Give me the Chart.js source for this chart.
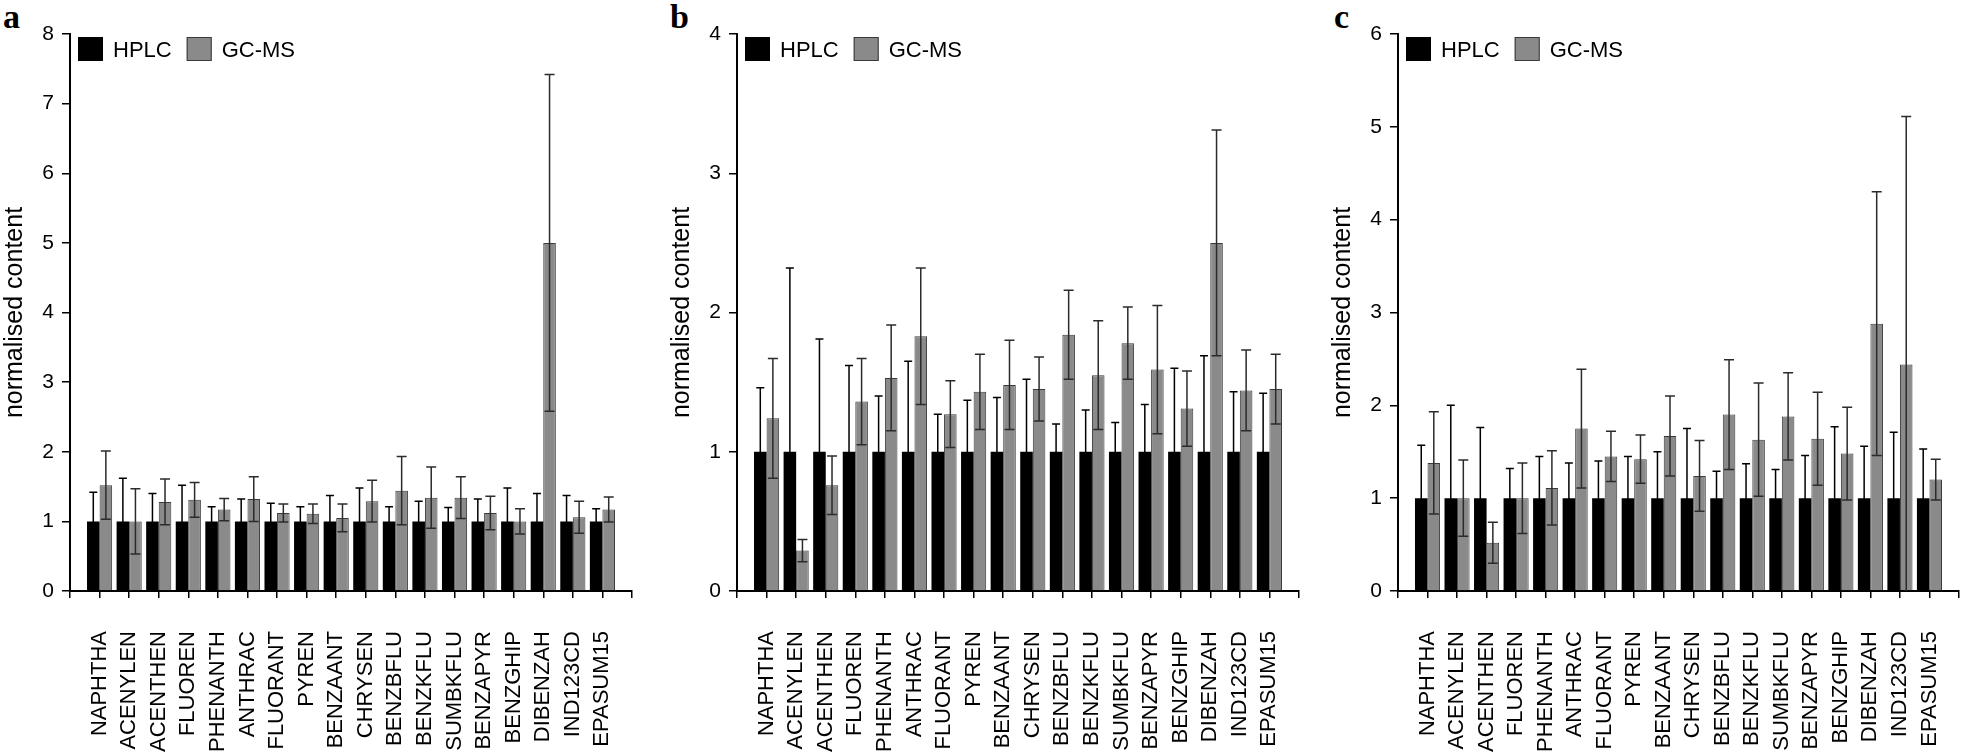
<!DOCTYPE html>
<html>
<head>
<meta charset="utf-8">
<script src="https://cdn.jsdelivr.net/npm/chart.js@4.4.0/dist/chart.umd.min.js"></script>
<style>
    body { margin: 0; background: #fff; width: 1961px; height: 754px; overflow: hidden; position: relative; }
    canvas { position: absolute; top: 0; }
    .panel_letter { position: absolute; top: 0px; font-family: "Liberation Serif", serif; font-weight: bold; font-size: 34px; line-height: 34px; color: #000; }
</style>
</head>
<body>
<div class="panel_letter" style="left:3px">a</div>
<div class="panel_letter" style="left:670px">b</div>
<div class="panel_letter" style="left:1334px">c</div>
<canvas id="chart_a" width="640" height="754" style="left:0px"></canvas>
<canvas id="chart_b" width="640" height="754" style="left:667px"></canvas>
<canvas id="chart_c" width="633" height="754" style="left:1328px"></canvas>
<script>
// ------------------ Data ------------------
const categories = ["NAPHTHA", "ACENYLEN", "ACENTHEN", "FLUOREN", "PHENANTH", "ANTHRAC", "FLUORANT", "PYREN", "BENZAANT",
    "CHRYSEN", "BENZBFLU", "BENZKFLU", "SUMBKFLU", "BENZAPYR", "BENZGHIP", "DIBENZAH", "IND123CD", "EPASUM15"];
const series_names = ["HPLC", "GC-MS"];

// panel a
const hplc_a = [1, 1, 1, 1, 1, 1, 1, 1, 1, 1, 1, 1, 1, 1, 1, 1, 1, 1];
const hplc_a_sd = [0.42, 0.62, 0.40, 0.52, 0.21, 0.32, 0.26, 0.21, 0.37, 0.48, 0.21, 0.29, 0.20, 0.32, 0.48, 0.40, 0.37, 0.18];
const gcms_a = [1.52, 1.00, 1.28, 1.31, 1.17, 1.32, 1.12, 1.11, 1.05, 1.29, 1.44, 1.34, 1.34, 1.12, 1.00, 5.00, 1.06, 1.17];
const gcms_a_sd = [0.49, 0.47, 0.33, 0.25, 0.16, 0.32, 0.13, 0.14, 0.20, 0.30, 0.49, 0.44, 0.30, 0.24, 0.18, 2.42, 0.23, 0.18];

// panel b
const hplc_b = [1, 1, 1, 1, 1, 1, 1, 1, 1, 1, 1, 1, 1, 1, 1, 1, 1, 1];
const hplc_b_sd = [0.46, 1.32, 0.81, 0.62, 0.40, 0.65, 0.27, 0.37, 0.39, 0.52, 0.20, 0.30, 0.21, 0.34, 0.60, 0.69, 0.43, 0.42];
const gcms_b = [1.24, 0.29, 0.76, 1.36, 1.53, 1.83, 1.27, 1.43, 1.48, 1.45, 1.84, 1.55, 1.78, 1.59, 1.31, 2.50, 1.44, 1.45];
const gcms_b_sd = [0.43, 0.08, 0.21, 0.31, 0.38, 0.49, 0.24, 0.27, 0.32, 0.23, 0.32, 0.39, 0.26, 0.46, 0.27, 0.81, 0.29, 0.25];

// panel c
const hplc_c = [1, 1, 1, 1, 1, 1, 1, 1, 1, 1, 1, 1, 1, 1, 1, 1, 1, 1];
const hplc_c_sd = [0.57, 1.00, 0.76, 0.32, 0.45, 0.38, 0.40, 0.45, 0.50, 0.75, 0.29, 0.37, 0.31, 0.46, 0.77, 0.56, 0.71, 0.53];
const gcms_c = [1.38, 1.00, 0.52, 1.00, 1.11, 1.75, 1.45, 1.42, 1.67, 1.24, 1.90, 1.63, 1.88, 1.64, 1.48, 2.88, 2.44, 1.20];
const gcms_c_sd = [0.55, 0.41, 0.22, 0.38, 0.40, 0.64, 0.27, 0.26, 0.43, 0.38, 0.59, 0.61, 0.47, 0.50, 0.50, 1.42, 2.67, 0.22];

// y axis maximum of each panel
const y_max_a = 8;
const y_max_b = 4;
const y_max_c = 6;

Chart.defaults.font.family = '"Liberation Sans", Arial, sans-serif';
Chart.defaults.color = "#000";

// ------------------ Plugin For The Error Bars ------------------
const errorBars = {
    id: "errorBars",
    afterDatasetsDraw(chart) {
        const ctx = chart.ctx;
        const yScale = chart.scales.y;
        ctx.save();
        chart.data.datasets.forEach((ds, i) => {
            const meta = chart.getDatasetMeta(i);
            meta.data.forEach((bar, j) => {
                const v = ds.data[j];
                const e = ds.errors[j];
                if (v == null || e == null) return;
                const x = bar.x;
                const top = yScale.getPixelForValue(v + e);
                const low = v - e;
                const bottom = yScale.getPixelForValue(Math.max(0, low));
                const half = ds.capHalf;
                ctx.strokeStyle = ds.errorColor;
                ctx.lineWidth = 1.5;
                ctx.beginPath();
                ctx.moveTo(x, top);
                ctx.lineTo(x, bottom);
                ctx.moveTo(x - half, top);
                ctx.lineTo(x + half, top);
                if (low > 0) {
                    ctx.moveTo(x - half, bottom);
                    ctx.lineTo(x + half, bottom);
                }
                ctx.stroke();
            });
        });
        ctx.restore();
    }
};

// ------------------ Plugin For The Legend Inside The Plot ------------------
const insideLegend = {
    id: "insideLegend",
    afterDraw(chart) {
        const ctx = chart.ctx;
        const area = chart.chartArea;
        let x = area.left + 8;
        const y = area.top + 3;
        ctx.save();
        ctx.font = '22px "Liberation Sans", Arial, sans-serif';
        ctx.textBaseline = "alphabetic";
        chart.data.datasets.forEach((ds) => {
            ctx.fillStyle = ds.backgroundColor;
            ctx.fillRect(x, y, 25, 24);
            if (ds.borderWidth) {
                ctx.strokeStyle = ds.borderColor;
                ctx.lineWidth = 1;
                ctx.strokeRect(x + 0.5, y + 0.5, 24, 23);
            }
            ctx.fillStyle = "#000";
            ctx.fillText(ds.label, x + 35, y + 20);
            x += 35 + ctx.measureText(ds.label).width + 15;
        });
        ctx.restore();
    }
};

// ------------------ Function For Building One Panel ------------------
function pad(arr) {
    return [null].concat(arr, [null]);
}

function makeChart(canvas_id, hplc, hplc_sd, gcms, gcms_sd, y_max, right_pad) {
    const ctx = document.getElementById(canvas_id).getContext("2d");
    return new Chart(ctx, {
        type: "bar",
        data: {
            labels: pad(categories).map((c) => c == null ? "" : c),
            datasets: [
                {
                    label: series_names[0],
                    data: pad(hplc),
                    errors: pad(hplc_sd),
                    backgroundColor: "#000",
                    borderColor: "#000",
                    borderWidth: 0,
                    errorColor: "#000",
                    capHalf: 4,
                },
                {
                    label: series_names[1],
                    data: pad(gcms),
                    errors: pad(gcms_sd),
                    backgroundColor: "#8a8a8a",
                    borderColor: "#3a3a3a",
                    borderWidth: 1,
                    errorColor: "#2b2b2b",
                    capHalf: 5,
                },
            ],
        },
        options: {
            responsive: false,
            animation: false,
            categoryPercentage: 0.85,
            barPercentage: 1.0,
            layout: { padding: { top: 34, right: right_pad, left: 0, bottom: 0 } },
            plugins: {
                tooltip: { enabled: false },
                legend: { display: false },
            },
            scales: {
                x: {
                    type: "category",
                    offset: false,
                    grid: { offset: false, drawOnChartArea: false, drawTicks: true, tickLength: 7, color: "#000", lineWidth: 1.5 },
                    border: { display: true, color: "#000", width: 2 },
                    ticks: { autoSkip: false, maxRotation: 90, minRotation: 90, padding: 33, color: "#000", font: { size: 22 } },
                    afterFit: (scale) => {
                        scale.height = 163;
                        scale.paddingLeft = 0;
                        scale.paddingRight = 0;
                    },
                },
                y: {
                    min: 0,
                    max: y_max,
                    grid: { drawOnChartArea: false, drawTicks: true, tickLength: 8, color: "#000", lineWidth: 1.5 },
                    border: { display: true, color: "#000", width: 2 },
                    ticks: { stepSize: 1, padding: 8, color: "#000", font: { size: 21 } },
                    title: { display: true, text: "normalised content", color: "#000", font: { size: 25 }, padding: 0 },
                    afterFit: (scale) => { scale.width = 70; },
                },
            },
        },
        plugins: [errorBars, insideLegend],
    });
}

makeChart("chart_a", hplc_a, hplc_a_sd, gcms_a, gcms_a_sd, y_max_a, 8);
makeChart("chart_b", hplc_b, hplc_b_sd, gcms_b, gcms_b_sd, y_max_b, 8);
makeChart("chart_c", hplc_c, hplc_c_sd, gcms_c, gcms_c_sd, y_max_c, 2);
</script>
</body>
</html>
